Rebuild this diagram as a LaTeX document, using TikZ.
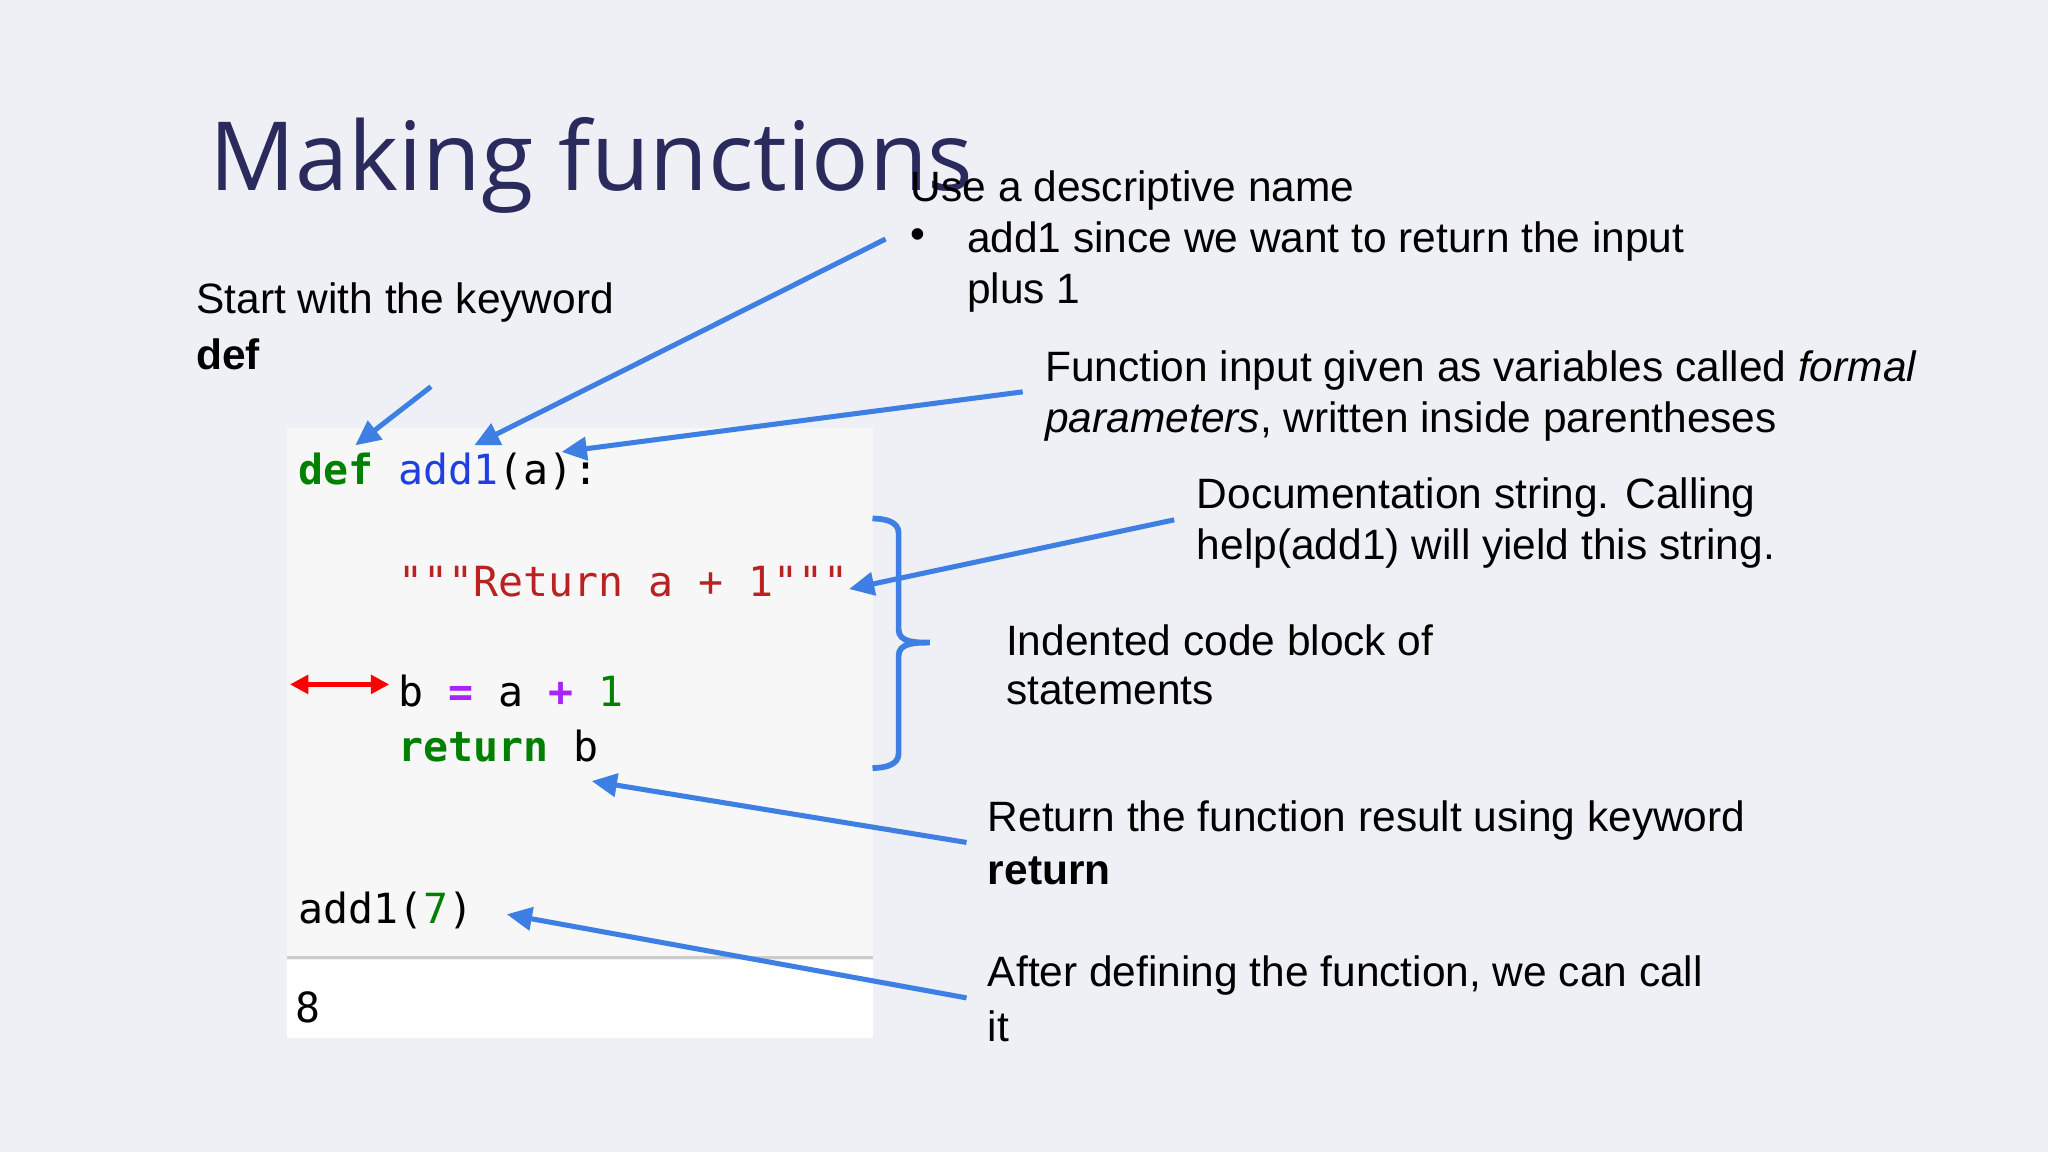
\documentclass[tikz,border=0pt]{standalone}
\usepackage{fontspec}
\setmainfont{Liberation Sans}
\newfontfamily\titlefont{Open Sans}
\newfontfamily\codefont{DejaVu Sans Mono}
\usetikzlibrary{arrows.meta}
\definecolor{bg}{HTML}{EEF0F5}
\definecolor{navy}{HTML}{2B2A5C}
\definecolor{arr}{HTML}{3D7FE3}
\definecolor{kw}{HTML}{008000}
\definecolor{fn}{HTML}{1F3FE0}
\definecolor{st}{HTML}{BA2121}
\definecolor{op}{HTML}{AA22FF}
\begin{document}
\begin{tikzpicture}[x=0.02cm,y=-0.02cm,
  lbl/.style={anchor=west,inner sep=0pt,font=\fontsize{18.5}{22}\selectfont},
  code/.style={anchor=west,inner sep=0pt,font=\codefont\fontsize{18.1}{21}\selectfont},
  barrow/.style={draw=arr,line width=2.2pt,-{Triangle[length=11pt,width=10pt]}}]
\fill[bg] (0,0) rectangle (1568,882);
\useasboundingbox (0,0) rectangle (1568,882);
\fill[black!3] (220,328) rectangle (668,733);
\fill[white] (220,735) rectangle (668,795);
\draw[black!20,line width=1.5pt] (220,733) -- (668,733);
\node[anchor=west,inner sep=0pt,text=navy,font=\titlefont\fontsize{41.6}{48}\selectfont] (title) at (160,127) {Making functions};
% code
\node[code] (c1) at (228,361) {\textcolor{kw}{\bfseries def} \textcolor{fn}{add1}(a):};
\node[code] (c2) at (305,445) {\textcolor{st}{"""Return a + 1"""}};
\node[code] (c3) at (305,529) {b \textcolor{op}{\bfseries =} a \textcolor{op}{\bfseries +} \textcolor{kw}{1}};
\node[code] (c4) at (305,571) {\textcolor{kw}{\bfseries return} b};
\node[code] (c5) at (228,697) {add1(\textcolor{kw}{7})};
\node[code] (c6) at (226,771) {8};
\coordinate (ra) at (222,524); \coordinate (rb) at (298,524);
\draw[red,line width=2.2pt,{Triangle[length=8pt,width=8pt]}-{Triangle[length=8pt,width=8pt]}] (ra) -- (rb);
% brace
\draw[arr,line width=2.5pt] (668,397) to[out=0,in=90] (688,408) -- (688,482) to[out=-90,in=180] (712,492) to[out=180,in=90] (688,502) -- (688,577) to[out=-90,in=0] (668,588);
% labels
\node[lbl] (l1) at (150,232) {Start with the keyword};
\node[lbl] (l1b) at (150,271) {\bfseries def};
\node[lbl] (l2) at (697,146) {Use a descriptive name};
\node[lbl] (bul) at (697,183) {•};
\node[lbl] (l2b) at (740,185) {add1 since we want to return the input};
\node[lbl] (l2c) at (740,224) {plus 1};
\node[lbl] (l3) at (800,284) {Function input given as variables called \textit{formal}};
\node[lbl] (l3b) at (800,323) {\textit{parameters}, written inside parentheses};
\node[lbl] (l4) at (916,381) {Documentation string. Calling};
\node[lbl] (l4b) at (916,420) {help(add1) will yield this string.};
\node[lbl] (l5) at (770,490) {Indented code block of};
\node[lbl] (l5b) at (770,529) {statements};
\node[lbl] (l6) at (756,628) {Return the function result using keyword};
\node[lbl] (l6b) at (756,667) {\bfseries return};
\node[lbl] (l7) at (756,747) {After defining the function, we can call};
\node[lbl] (l7b) at (756,786) {it};
% arrows
\coordinate (a1s) at (330,296); \coordinate (a1e) at (272,341);
\coordinate (a2s) at (678,183); \coordinate (a2e) at (363,341);
\coordinate (a3s) at (783,300); \coordinate (a3e) at (430,346);
\coordinate (a4s) at (899,398); \coordinate (a4e) at (650,451);
\coordinate (a5s) at (740,645); \coordinate (a5e) at (453,598);
\coordinate (a6s) at (740,764); \coordinate (a6e) at (388,700);
\draw[barrow] (a1s) -- (a1e);
\draw[barrow] (a2s) -- (a2e);
\draw[barrow] (a3s) -- (a3e);
\draw[barrow] (a4s) -- (a4e);
\draw[barrow] (a5s) -- (a5e);
\draw[barrow] (a6s) -- (a6e);
\end{tikzpicture}
\end{document}
